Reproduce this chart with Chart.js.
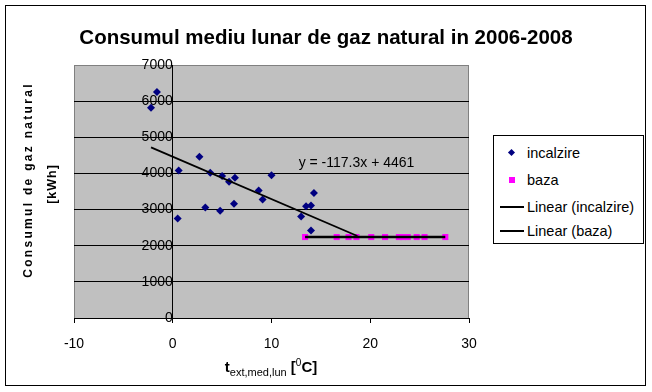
<!DOCTYPE html>
<html>
<head>
<meta charset="utf-8">
<script src="https://cdn.jsdelivr.net/npm/chart.js@4/dist/chart.umd.min.js"></script>
<style>
  body { margin: 0; background: #fff; font-family: "Liberation Sans", Arial, sans-serif; }
  #wrap { position: relative; width: 652px; height: 392px; }
  #cadru { position: absolute; left: 5px; top: 5px; width: 639px; height: 379px; border: 1px solid #000; pointer-events: none; }
  #titlu { position: absolute; left: 0; top: 24px; width: 652px; text-align: center; font-weight: bold; font-size: 20.5px; line-height: 26px; color: #000; }
  .ytitlu { position: absolute; width: 260px; text-align: center; font-weight: bold; font-size: 12px; line-height: 14px; transform: rotate(-90deg); color: #000; }
  #xtitlu { position: absolute; left: 160px; top: 357px; width: 222px; text-align: center; font-weight: bold; font-size: 15px; color: #000; }
  #xtitlu sub { font-weight: normal; font-size: 11px; vertical-align: -4px; }
  #xtitlu sup { font-weight: normal; font-size: 10px; vertical-align: 6px; }
  #legenda { position: absolute; left: 493px; top: 135px; width: 149px; height: 107px; border: 1px solid #000; background: #fff; font-size: 14.5px; }
  .rand { position: absolute; left: 0; height: 20px; line-height: 20px; white-space: nowrap; }
  .rand span.t { position: absolute; left: 33px; }
  .romb { position: absolute; left: 15px; top: 7px; width: 5px; height: 5px; background: #000080; transform: rotate(45deg); }
  .patrat { position: absolute; left: 15px; top: 7px; width: 6px; height: 6px; background: #ff00ff; }
  .linie { position: absolute; left: 6px; top: 9px; width: 24px; height: 2px; background: #000; }
</style>
</head>
<body>
<div id="wrap">
  <canvas id="grafic" width="652" height="392"></canvas>
  <div id="titlu">Consumul mediu lunar de gaz natural in 2006-2008</div>
  <div class="ytitlu" style="left:-102px; top:173px; letter-spacing:2.3px;">Consumul de gaz natural</div>
  <div class="ytitlu" style="left:-78px; top:177px; font-size:12.5px; letter-spacing:1px;">[kWh]</div>
  <div id="xtitlu">t<sub>ext,med,lun</sub> [<sup>0</sup>C]</div>
  <div id="legenda">
    <div class="rand" style="top:7px;"><i class="romb"></i><span class="t">incalzire</span></div>
    <div class="rand" style="top:34px;"><i class="patrat"></i><span class="t">baza</span></div>
    <div class="rand" style="top:61px;"><i class="linie"></i><span class="t">Linear (incalzire)</span></div>
    <div class="rand" style="top:85px;"><i class="linie"></i><span class="t">Linear (baza)</span></div>
  </div>
  <div id="cadru"></div>
</div>
<script>
// temperatura exterioara medie lunara [grd C] si consumul [kWh]
var temperaturaIncalzire = [-2.2, -1.6, 0.5, 0.6, 2.7, 3.3, 3.8, 4.8, 5.0, 5.7, 6.2, 6.3, 8.7, 9.1, 10.0, 13.0, 13.5, 14.0, 14.0, 14.3];
var consumIncalzire = [5820, 6250, 2750, 4080, 4460, 3060, 4020, 2970, 3930, 3770, 3160, 3880, 3530, 3280, 3950, 2810, 3090, 3110, 2420, 3460];

var temperaturaBaza = [13.4, 16.6, 17.8, 18.6, 20.1, 21.5, 22.9, 23.3, 23.8, 24.7, 25.5, 27.6];
var consumBaza = [2240, 2240, 2240, 2240, 2240, 2240, 2240, 2240, 2240, 2240, 2240, 2240];

// linii de tendinta
var pantaIncalzire = -117.3;
var interceptIncalzire = 4461;
var domeniuTendintaIncalzire = [-2.2, 18.7];
var domeniuTendintaBaza = [13.4, 27.6];
var nivelBaza = 2240;

var ticksX = [-10, 0, 10, 20, 30];
var ticksY = [0, 1000, 2000, 3000, 4000, 5000, 6000, 7000];

function puncte(xs, ys) {
    var r = [];
    for (var i = 0; i < xs.length; i++) r.push({x: xs[i], y: ys[i]});
    return r;
}

var tendintaIncalzire = domeniuTendintaIncalzire.map(function(t) {
    return {x: t, y: pantaIncalzire * t + interceptIncalzire};
});
var tendintaBaza = domeniuTendintaBaza.map(function(t) {
    return {x: t, y: nivelBaza};
});

var fundalZona = {
    id: 'fundalZona',
    beforeDraw: function(chart) {
        var a = chart.chartArea, c = chart.ctx;
        c.save();
        c.fillStyle = '#c0c0c0';
        c.fillRect(a.left, a.top, a.right - a.left, a.bottom - a.top);
        c.strokeStyle = '#808080';
        c.lineWidth = 1;
        c.strokeRect(a.left + 0.5, a.top + 0.5, a.right - a.left - 1, a.bottom - a.top);
        c.restore();
    }
};

var ecuatie = {
    id: 'ecuatie',
    afterDatasetsDraw: function(chart) {
        var sx = chart.scales.x, sy = chart.scales.y, c = chart.ctx;
        c.save();
        c.font = '14px "Liberation Sans", Arial, sans-serif';
        c.fillStyle = '#000';
        c.textAlign = 'left';
        c.textBaseline = 'middle';
        c.fillText('y = -117.3x + 4461', sx.getPixelForValue(12.75), sy.getPixelForValue(4290));
        c.restore();
    }
};

var ctx = document.getElementById('grafic').getContext('2d');
var grafic = new Chart(ctx, {
    type: 'scatter',
    data: {
        datasets: [{
            label: 'incalzire',
            data: puncte(temperaturaIncalzire, consumIncalzire),
            pointStyle: 'rectRot',
            pointRadius: 4,
            backgroundColor: '#000080',
            borderColor: '#000080',
            borderWidth: 0,
            order: 2
        }, {
            label: 'baza',
            data: puncte(temperaturaBaza, consumBaza),
            pointStyle: 'rect',
            pointRadius: 4.3,
            backgroundColor: '#ff00ff',
            borderColor: '#ff00ff',
            borderWidth: 0,
            order: 1
        }, {
            label: 'Linear (incalzire)',
            data: tendintaIncalzire,
            showLine: true,
            pointRadius: 0,
            borderColor: '#000',
            borderWidth: 1.8,
            order: 0
        }, {
            label: 'Linear (baza)',
            data: tendintaBaza,
            showLine: true,
            pointRadius: 0,
            borderColor: '#000',
            borderWidth: 2.4,
            order: 0
        }]
    },
    options: {
        responsive: false,
        animation: false,
        layout: { padding: { left: 74, right: 183, top: 65, bottom: 0 } },
        plugins: {
            legend: { display: false },
            tooltip: { enabled: false },
            title: { display: false }
        },
        scales: {
            x: {
                type: 'linear',
                position: 'bottom',
                min: -10,
                max: 30,
                afterBuildTicks: function(s) { s.ticks = ticksX.map(function(v) { return {value: v}; }); },
                afterFit: function(s) { s.height = 74; },
                grid: { drawOnChartArea: false, drawTicks: true, tickLength: 5, color: '#000' },
                border: { color: '#000', width: 1 },
                ticks: {
                    color: '#000', padding: 13,
                    font: { size: 14, family: '"Liberation Sans", Arial, sans-serif' },
                    callback: function(v) { return String(v); }
                }
            },
            y: {
                type: 'linear',
                position: { x: 0 },
                min: 0,
                max: 7000,
                afterBuildTicks: function(s) { s.ticks = ticksY.map(function(v) { return {value: v}; }); },
                grid: {
                    drawTicks: false,
                    color: function(c) { return c.tick && c.tick.value === 7000 ? '#808080' : '#000'; }
                },
                border: { color: '#000', width: 1 },
                ticks: {
                    color: '#000', padding: 15,
                    font: { size: 14, family: '"Liberation Sans", Arial, sans-serif' },
                    callback: function(v) { return String(v); }
                }
            }
        }
    },
    plugins: [fundalZona, ecuatie]
});
</script>
</body>
</html>
